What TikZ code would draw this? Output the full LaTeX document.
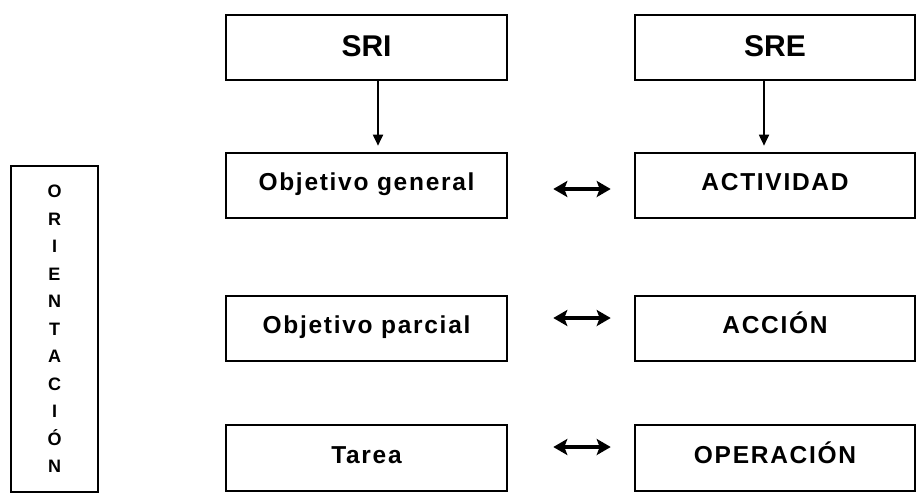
\documentclass[tikz,border=0pt]{standalone}
\usepackage{fontspec}
\usetikzlibrary{arrows.meta}
\newfontfamily\lblfont[LetterSpace=7]{Liberation Sans}
\newfontfamily\titlefont{Liberation Sans}
\tikzset{
  box/.style={draw=black, line width=2.6pt, rectangle, inner sep=0pt, fill=white},
  lbl/.style={font=\lblfont\bfseries\fontsize{24.5}{28}\selectfont, text height=17.4pt, text depth=7pt},
  ttl/.style={font=\titlefont\bfseries\fontsize{30}{34}\selectfont, text height=21.5pt, text depth=4pt},
  down/.style={line width=1.8pt, -{Triangle[width=10pt,length=11pt]}},
  both/.style={line width=4pt, {Stealth[width=16pt,length=14pt,inset=3pt]}-{Stealth[width=16pt,length=14pt,inset=3pt]}}
}
\begin{document}
\begin{tikzpicture}[x=1pt,y=-1pt]
\useasboundingbox (0,0) rectangle (917,495);
% top boxes
\node[box, ttl, minimum width=281pt, minimum height=65pt] (sri) at (366.5,47.5) {SRI};
\node[box, ttl, minimum width=280pt, minimum height=65pt] (sre) at (775,47.5) {SRE};
% rows
\node[box, lbl, minimum width=281pt, minimum height=65pt] (og) at (366.5,185.5) {Objetivo general};
\node[box, lbl, minimum width=280pt, minimum height=65pt] (act) at (775,185.5) {ACTIVIDAD};
\node[box, lbl, minimum width=281pt, minimum height=65pt] (op) at (366.5,328.5) {Objetivo parcial};
\node[box, lbl, minimum width=280pt, minimum height=65pt] (acc) at (775,328.5) {ACCIÓN};
\node[box, lbl, minimum width=281pt, minimum height=66pt] (ta) at (366.5,458) {Tarea};
\node[box, lbl, minimum width=280pt, minimum height=66pt] (oper) at (775,458) {OPERACIÓN};
% orientation
\node[box, minimum width=87pt, minimum height=326pt] (ori) at (54.5,329) {};
\node[font=\titlefont\bfseries\fontsize{18}{27.5}\selectfont, align=center, inner sep=0pt] (oritxt) at (ori.center)
  {O\\R\\I\\E\\N\\T\\A\\C\\I\\Ó\\N};
% vertical arrows
\draw[down] ([xshift=11.5pt]sri.south) -- ([xshift=11.5pt,yshift=6pt]og.north);
\draw[down] ([xshift=-11pt]sre.south) -- ([xshift=-11pt,yshift=6pt]act.north);
% double arrows
\draw[both] ([xshift=45pt,yshift=-3.5pt]og.east) -- ([xshift=-23pt,yshift=-3.5pt]act.west);
\draw[both] ([xshift=45pt,yshift=10.5pt]op.east) -- ([xshift=-23pt,yshift=10.5pt]acc.west);
\draw[both] ([xshift=45pt,yshift=11pt]ta.east) -- ([xshift=-23pt,yshift=11pt]oper.west);
\end{tikzpicture}
\end{document}
